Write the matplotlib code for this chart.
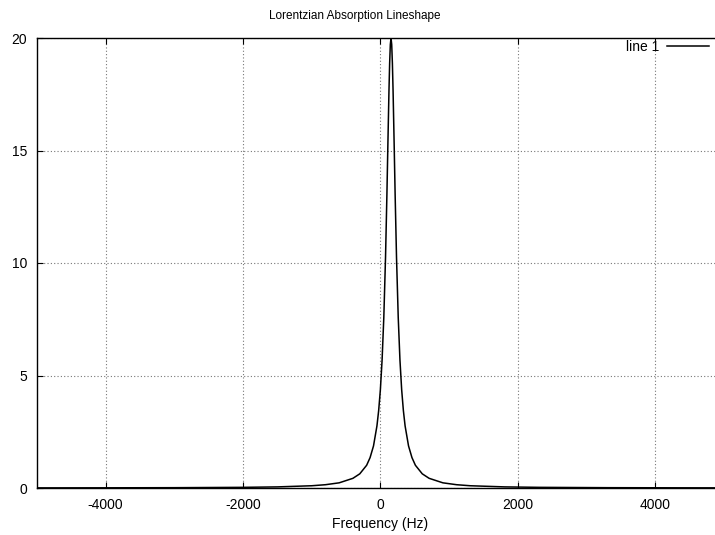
#!/usr/bin/env python3

import matplotlib
matplotlib.use("Agg")
import matplotlib.pyplot as plt

# frequency (Hz) and absorption
freq = [-5000, -4000, -3000, -2000, -1500, -1000, -800, -600, -400, -300,
        -200, -150, -100, -50, -25, 0, 25, 50, 75, 95, 110, 125, 135, 145,
        155, 165, 175, 185, 200, 215, 235, 260, 285, 310, 335, 360, 410, 460,
        510, 610, 710, 910, 1110, 1310, 1810, 2310, 3310, 4310, 5000]
absorption = [0.005, 0.008, 0.014, 0.029, 0.049, 0.100, 0.146, 0.23, 0.43, 0.63,
              1.01, 1.35, 1.87, 2.76, 3.44, 4.37, 5.69, 7.58, 10.25, 13.03, 15.37, 17.64, 18.88, 19.71,
              20.0, 19.71, 18.88, 17.64, 15.37, 13.03, 10.25, 7.58, 5.69, 4.37, 3.44, 2.76, 1.87, 1.35,
              1.01, 0.63, 0.43, 0.23, 0.146, 0.100, 0.049, 0.029, 0.014, 0.008, 0.0057]

xticks = [-4000, -2000, 0, 2000, 4000]
yticks = [0, 5, 10, 15, 20]

plt.rcParams["font.family"] = ["Liberation Sans", "DejaVu Sans"]
plt.rcParams["axes.unicode_minus"] = False

fig = plt.figure(figsize=(7.15, 5.35), dpi=100)
# the right edge of the plot (x=5000) lies just past the picture border
ax = fig.add_axes([37 / 715, 1 - 488 / 535, 686.75 / 715, 450 / 535])

ax.plot(freq, absorption, color="black", linewidth=1.1, label="line 1")

ax.set_xlim(-5000, 5000)
ax.set_ylim(0, 20)
ax.set_xticks(xticks)
ax.set_yticks(yticks)
ax.tick_params(direction="in", top=True, right=True, length=4, width=0.8,
               labelsize=10, pad=7, colors="black")
ax.grid(True, linestyle=(0, (1, 2)), color="#777777", linewidth=0.8)
for spine in ax.spines.values():
    spine.set_linewidth(1.0)

ax.set_xlabel("Frequency (Hz)", fontsize=10, labelpad=4)
fig.text(355 / 715, 1 - 16 / 535, "Lorentzian Absorption Lineshape",
         fontsize=8.5, ha="center", va="center")

fig.legend(loc="upper right", bbox_to_anchor=(709 / 715, 1 - 40 / 535),
           frameon=False, markerfirst=False, fontsize=10, handlelength=3.0,
           handletextpad=0.6, borderpad=0, borderaxespad=0)

fig.savefig("out.png", dpi=100)
